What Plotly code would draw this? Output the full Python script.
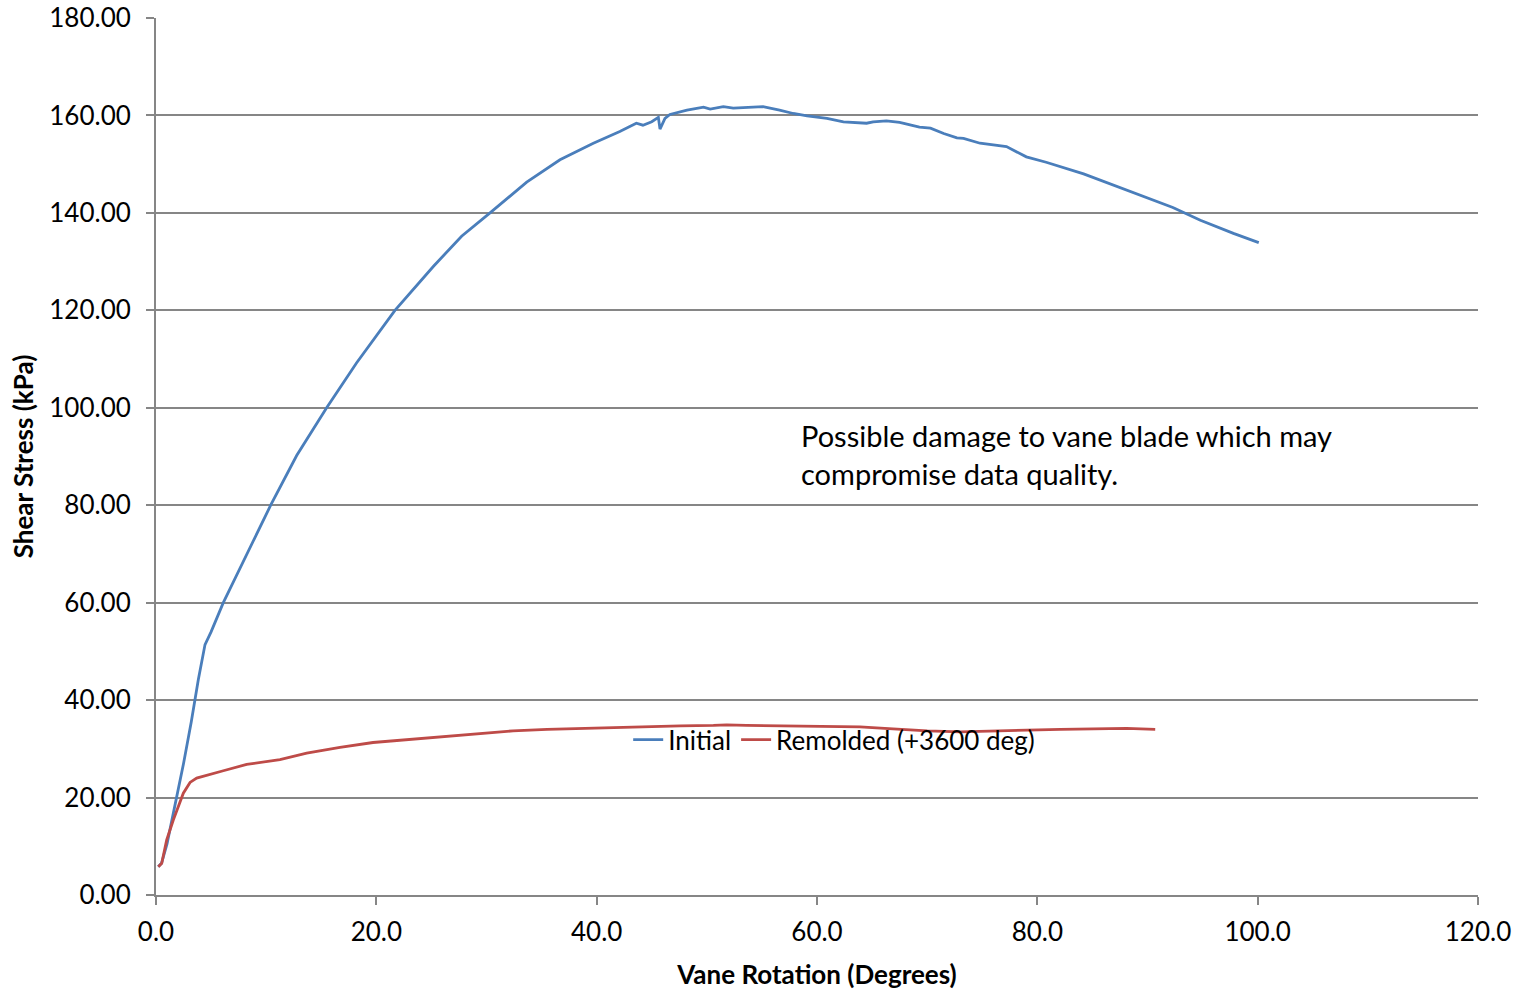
import plotly.graph_objects as go

# Initial test (peak shear)
initial_rot = [0.2, 0.5, 1.0, 1.6, 2.5, 3.2, 3.84, 4.45, 5.0, 6.11, 8.23, 10.41, 12.77,
               15.49, 18.2, 21.69, 25.17, 27.74, 30.32, 33.65, 36.67, 39.7, 42.1, 43.6,
               44.2, 45.0, 45.6, 45.75, 46.2, 46.65, 48.2, 49.7, 50.3, 51.5, 52.4, 53.6,
               55.1, 56.6, 57.85, 59.1, 60.9, 62.4, 63.9, 64.5, 65.1, 66.3, 67.5, 68.7,
               69.3, 70.3, 71.5, 72.7, 73.3, 74.8, 77.2, 79.0, 80.8, 84.2, 86.9, 89.3,
               92.3, 94.8, 97.8, 100.1]
initial_stress = [5.8, 6.5, 10.5, 17.0, 27.0, 35.5, 44.2, 51.4, 54.0, 60.0, 69.7, 80.0, 90.2,
                  100.0, 109.2, 120.0, 129.0, 135.2, 140.0, 146.3, 150.9, 154.3, 156.7, 158.4,
                  158.0, 158.7, 159.6, 157.2, 159.4, 160.2, 161.1, 161.7, 161.3, 161.8, 161.5, 161.7,
                  161.8, 161.1, 160.4, 159.9, 159.4, 158.7, 158.4, 158.4, 158.7, 158.9, 158.6, 157.9,
                  157.6, 157.4, 156.3, 155.4, 155.3, 154.3, 153.6, 151.5, 150.4, 148.0, 145.7, 143.8,
                  141.1, 138.5, 135.8, 133.9]

# Remolded test (+3600 deg)
remold_rot = [0.21, 0.52, 0.97, 1.57, 2.48, 3.09, 3.69, 4.6, 6.11, 8.23, 11.25, 13.68, 16.7,
              19.7, 21.2, 23.4, 26.4, 29.4, 32.4, 35.5, 38.5, 41.5, 44.5, 47.6, 50.6, 51.8,
              53.6, 56.6, 57.85, 60.9, 63.9, 66.9, 70.0, 73.0, 76.0, 79.0, 82.1, 85.1, 88.1, 90.7]
remold_stress = [5.8, 6.5, 11.3, 15.4, 20.9, 23.1, 24.0, 24.6, 25.5, 26.8, 27.8, 29.1, 30.3,
                 31.3, 31.6, 31.9, 32.6, 33.2, 33.7, 34.0, 34.2, 34.4, 34.5, 34.7, 34.8, 34.9,
                 34.8, 34.7, 34.7, 34.6, 34.5, 34.1, 33.7, 33.5, 33.7, 33.9, 34.0, 34.1, 34.2, 34.0]

font_family = "Lato, 'Open Sans', sans-serif"

fig = go.Figure()
fig.add_trace(go.Scatter(x=initial_rot, y=initial_stress, mode='lines', name='Initial',
                         line=dict(color='#4A7EBB', width=2.8)))
fig.add_trace(go.Scatter(x=remold_rot, y=remold_stress, mode='lines', name='Remolded (+3600 deg)',
                         line=dict(color='#BE4B48', width=2.8)))

fig.add_annotation(x=58.4, y=90.5, xref='x', yref='y', xanchor='left', yanchor='middle',
                   align='left', showarrow=False,
                   text="Possible damage to vane blade which may<br>compromise data quality.",
                   font=dict(size=29, color='black', family=font_family))

fig.update_layout(
    width=1519, height=992,
    margin=dict(l=156, r=41, t=18, b=97),
    paper_bgcolor='white', plot_bgcolor='white',
    font=dict(family=font_family, size=26, color='black'),
    showlegend=True,
    legend=dict(orientation='h', x=0.513, y=0.177, xanchor='center', yanchor='middle',
                bgcolor='rgba(0,0,0,0)', font=dict(size=26)),
    xaxis=dict(range=[0, 120], dtick=20, tickformat='.1f', showgrid=False, zeroline=False,
               showline=True, linecolor='#868686', linewidth=2, automargin=False,
               ticks='outside', ticklen=8, tickwidth=2, tickcolor='#868686', ticklabelstandoff=5,
               title=dict(text='<b>Vane Rotation (Degrees)</b>', font=dict(size=26), standoff=20)),
    yaxis=dict(range=[0, 180], dtick=20, tickformat='.2f', showgrid=True, gridcolor='#868686',
               gridwidth=2, zeroline=False, showline=True, linecolor='#868686', linewidth=2,
               automargin=False,
               ticks='outside', ticklen=8, tickwidth=2, tickcolor='#868686', ticklabelstandoff=10,
               title=dict(text='<b>Shear Stress (kPa)</b>', font=dict(size=26), standoff=8)),
)

fig.write_html("out.html", config={'displayModeBar': False},
               post_script="document.body.style.margin='0';")
